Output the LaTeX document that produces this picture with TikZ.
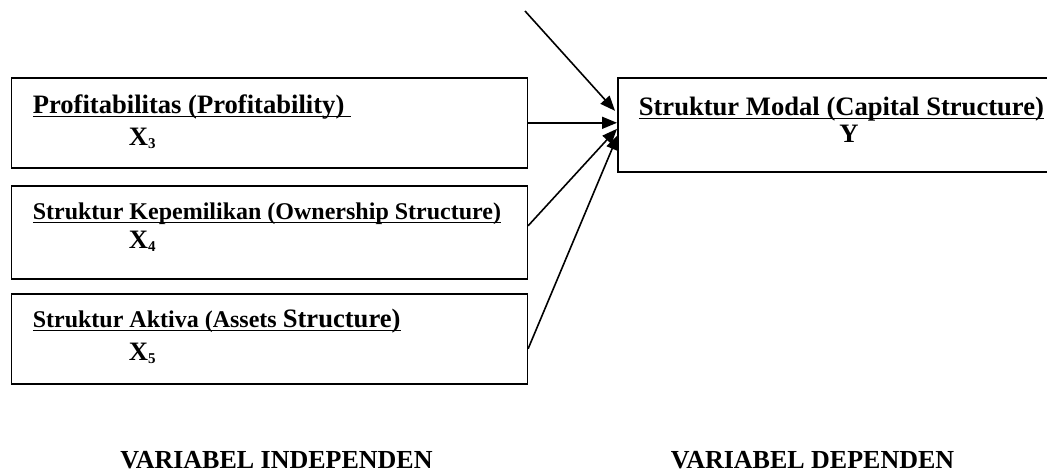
\documentclass[tikz,border=0pt]{standalone}
\usepackage{fontspec}
\setmainfont{Liberation Serif}
\usetikzlibrary{calc,arrows.meta}

\newcommand{\undl}[1]{\setbox0\hbox{#1}\rlap{\rule[-2.2pt]{\wd0}{0.7pt}}\box0}
\newcommand{\subidx}[1]{\raisebox{-1.6pt}{\fontsize{7.5}{8}\selectfont #1}}

\begin{document}
\begin{tikzpicture}[x=0.5pt,y=-0.5pt,line width=0.8pt,font=\bfseries]
  \clip (0,0) rectangle (1047,472);
  \tikzset{varbox/.style={draw,rectangle,anchor=north west,inner sep=0pt,minimum width=258pt},
           label/.style={anchor=base west,inner sep=0pt},
           arr/.style={-{Triangle[length=7.5pt,width=6pt]}}}

  %% Boxes of the independent variables
  \node[varbox,minimum height=45pt]   (PROF)  at (10.5,77)  {};
  \node[varbox,minimum height=46.5pt] (OWN)   at (10.5,185) {};
  \node[varbox,minimum height=45pt]   (ASSET) at (10.5,293) {};

  %% Box of the dependent variable
  \node[varbox,minimum width=250pt,minimum height=47pt] (MODAL) at (617,77) {};

  %% Texts inside the boxes
  \node[label,font=\fontsize{13.3}{15}\bfseries] (PROFtxt) at (32,113)
    {\undl{Profitabilitas (Profitability)\ }};
  \node[label,font=\fontsize{13.3}{15}\bfseries] (PROFx) at (128,145) {X\subidx{3}};
  \node[label,font=\fontsize{12}{14}\bfseries] (OWNtxt) at (32,219)
    {\undl{Struktur Kepemilikan (Ownership Structure)}};
  \node[label,font=\fontsize{13.3}{15}\bfseries] (OWNx) at (128,248) {X\subidx{4}};
  \node[label,font=\fontsize{12}{14}\bfseries] (ASSETtxt) at (32,327)
    {\undl{Struktur Aktiva (Assets {\fontsize{13.3}{15}\selectfont Structure)}}};
  \node[label,font=\fontsize{13.3}{15}\bfseries] (ASSETx) at (128,360) {X\subidx{5}};
  \node[label,font=\fontsize{13.3}{15}\bfseries] (MODALtxt) at (638,115)
    {\undl{Struktur Modal (Capital Structure)}};
  \node[anchor=base,inner sep=0pt,font=\fontsize{13.3}{15}\bfseries] (MODALy) at (849,142) {Y};

  %% Column captions
  \node[anchor=base,inner sep=0pt,font=\fontsize{13}{15}\bfseries] (INDEP) at (276.5,468) {VARIABEL INDEPENDEN};
  \node[anchor=base,inner sep=0pt,font=\fontsize{13}{15}\bfseries] (DEP) at (812.5,468) {VARIABEL DEPENDEN};

  %% Arrows into the dependent variable
  \coordinate (OTHER) at (525,11);
  \draw[arr] (OTHER) -- ($(MODAL.west)+(-2,-14)$);
  \draw[arr] (PROF.east) -- ($(MODAL.west)+(0,-2)$);
  \draw[arr] ($(OWN.east)+(0,-6.5)$) -- ($(MODAL.west)+(0,4)$);
  \draw[arr] ($(ASSET.east)+(0,10)$) -- ($(MODAL.west)+(1,10)$);
\end{tikzpicture}
\end{document}
